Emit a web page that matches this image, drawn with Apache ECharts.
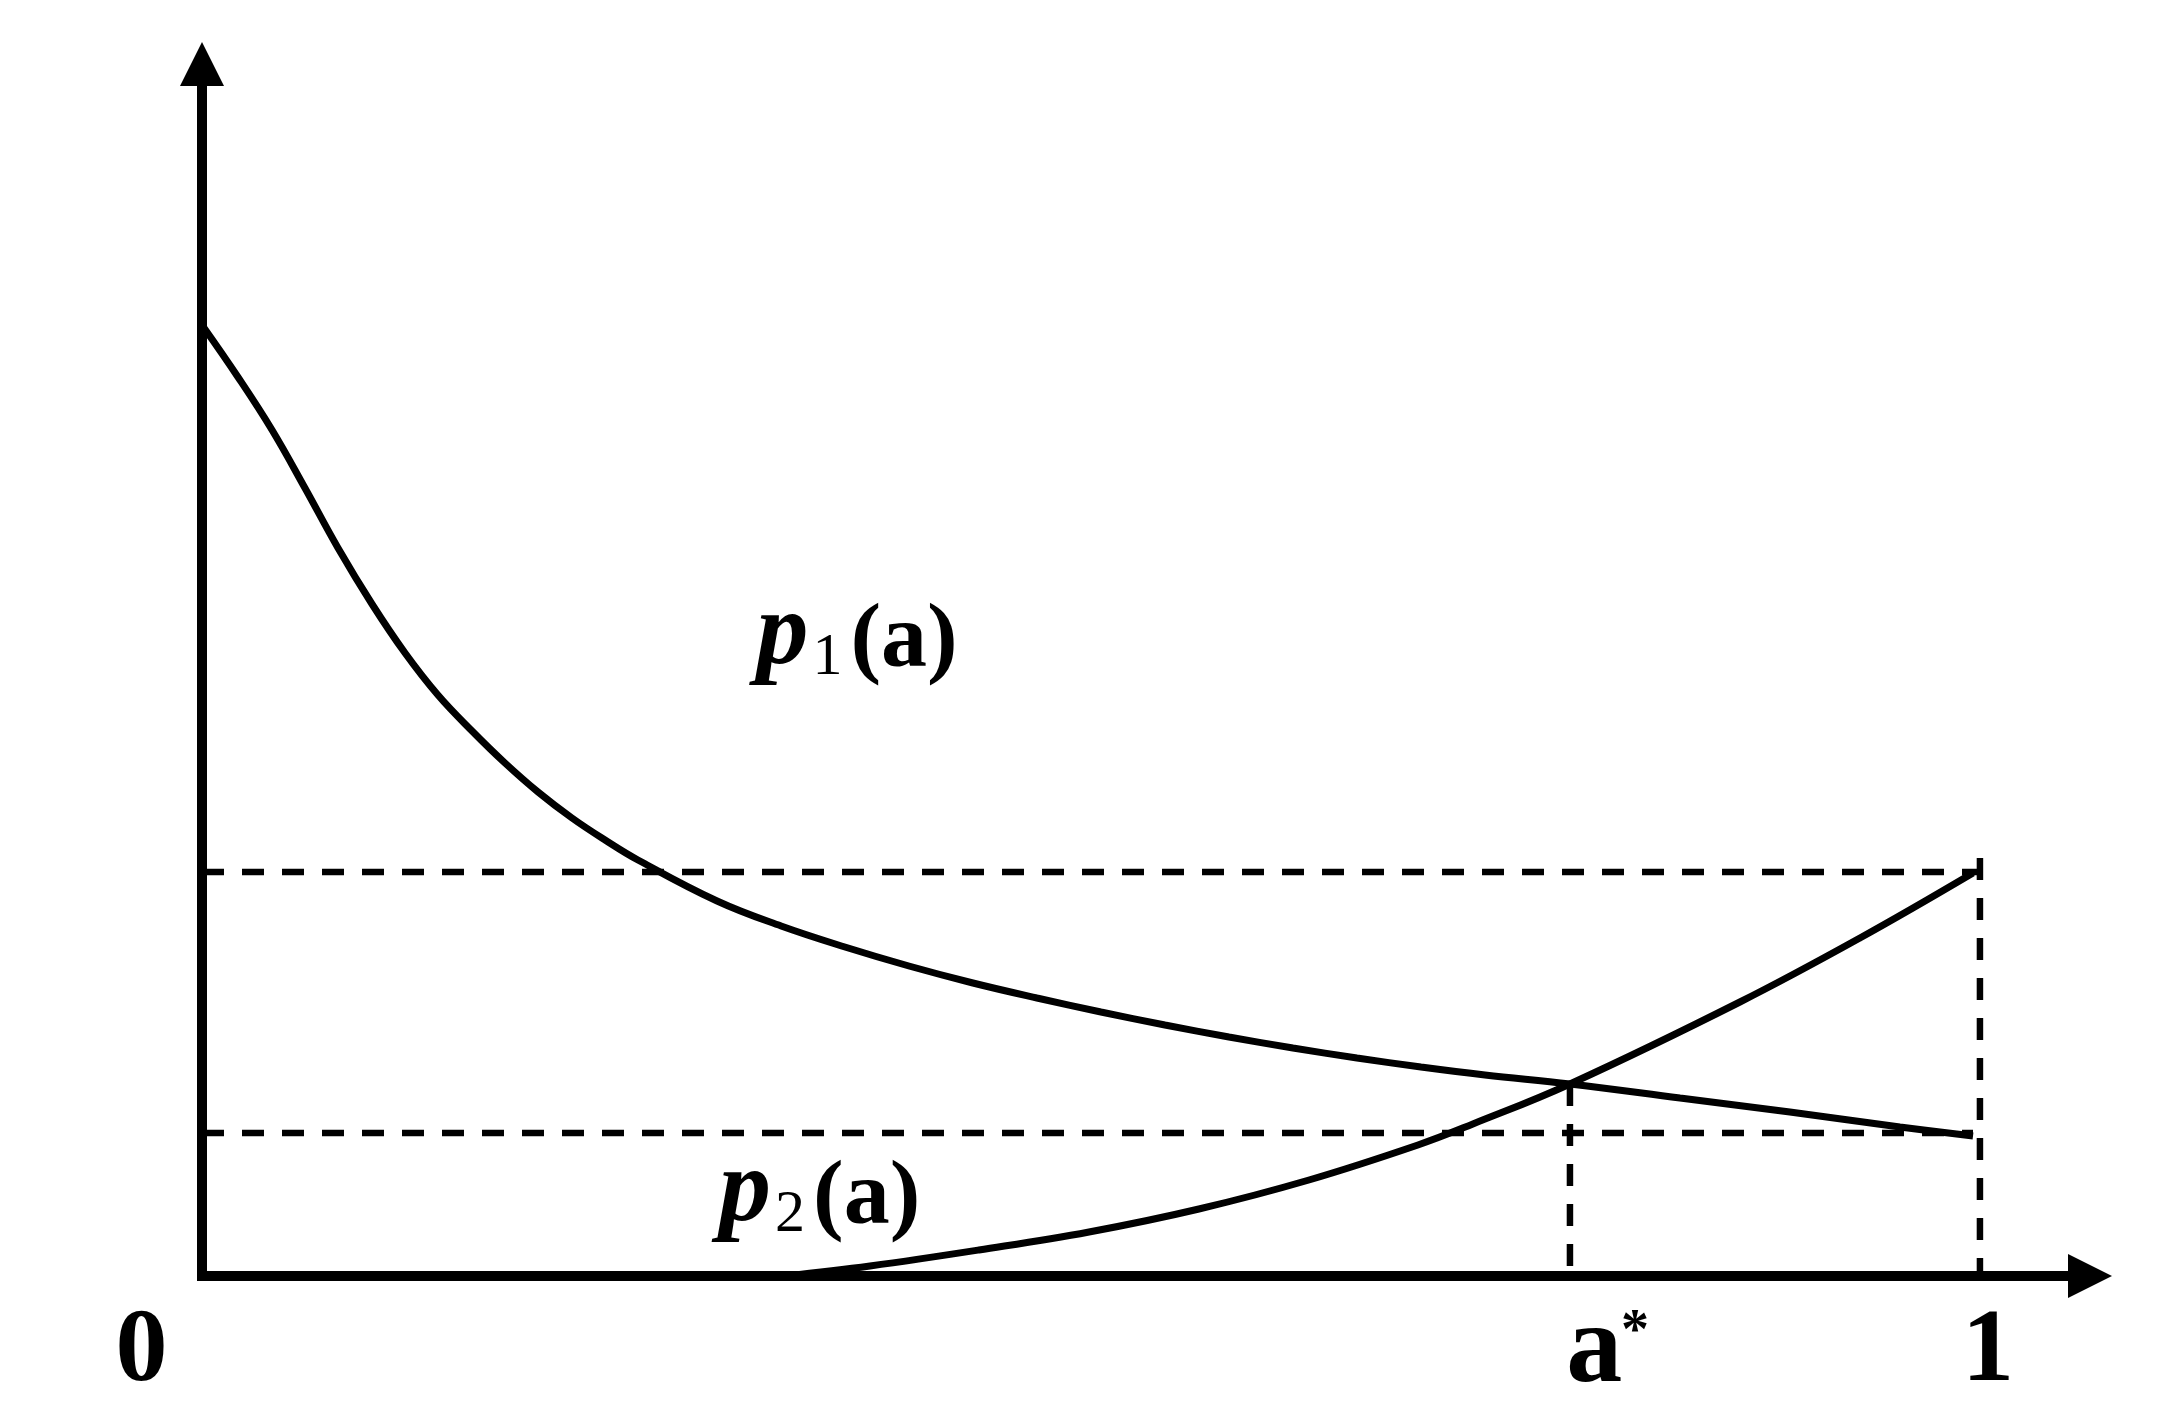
<!DOCTYPE html>
<html>
<head>
	<meta charset="utf-8">
	<title>p1(a) p2(a)</title>
	<style type="text/css">
		html,body{
			margin: 0;
			padding: 0;
			background: #fff;
		}
		#main{
			width: 2169px;
			height: 1420px;
		}
	</style>
</head>
<body>
<div id="main"></div>

<script src="https://cdn.jsdelivr.net/npm/echarts@6/dist/echarts.min.js"></script>
<script>
    // p1(a) 曲线
    var p1X = [0, 0.0202, 0.0394, 0.0579, 0.0765, 0.0956, 0.1142, 0.1327, 0.1519, 0.1704, 0.1890, 0.2081, 0.2267, 0.2452,
        0.2897, 0.3257, 0.3616, 0.3976, 0.4336, 0.4696, 0.5056, 0.5416, 0.5776, 0.6136, 0.6496, 0.6856, 0.7216, 0.7694,
        0.8313, 0.8931, 0.9550, 0.9961];
    var p1Y = [0.951, 0.899, 0.846, 0.788, 0.728, 0.672, 0.623, 0.581, 0.545, 0.513, 0.484, 0.458, 0.436, 0.416,
        0.375, 0.350, 0.329, 0.310, 0.293, 0.278, 0.264, 0.251, 0.239, 0.228, 0.218, 0.209, 0.201, 0.192,
        0.178, 0.164, 0.149, 0.140];
    // p2(a) 曲线
    var p2X = [0.3279, 0.3757, 0.4370, 0.4989, 0.5607, 0.6226, 0.6839, 0.7148, 0.7694, 0.8650, 0.9325, 0.9961];
    var p2Y = [0, 0.010, 0.026, 0.044, 0.067, 0.096, 0.131, 0.152, 0.192, 0.274, 0.338, 0.403];
    // 虚线
    var aStar = 0.7694;
    var aStarY = 0.192;
    var levelHigh = 0.404;
    var levelLow = 0.143;
    var oneTop = 0.418;
    var lineEnd = 0.9961;
    // 文字
    var labelTexts = ['0', '1', 'a', '*', 'p1', 'p2'];
    var labelX = [-0.034, 1.0045, 0.783, 0.806, 0.369, 0.348];
    var labelY = [-0.077, -0.077, -0.076, -0.058, 0.640, 0.083];

    function pairs(xs, ys) {
        var out = [];
        for (var i = 0; i < xs.length; i++) {
            out.push([xs[i], ys[i]]);
        }
        return out;
    }

    var serif = '"Liberation Serif", "DejaVu Serif", serif';
    var dash = [22, 18];

    function dashed(data) {
        return {
            type: 'line',
            data: data,
            symbol: 'none',
            silent: true,
            lineStyle: { color: '#000', width: 6.5, type: dash }
        };
    }

    var labelData = [];
    for (var i = 0; i < labelTexts.length; i++) {
        labelData.push({ value: [labelX[i], labelY[i]], name: labelTexts[i] });
    }

    var myChart = echarts.init(document.getElementById('main'));
    var option = {
        backgroundColor: '#fff',
        animation: false,
        grid: {
            left: 202,
            right: 79,
            top: 64,
            bottom: 144
        },
        xAxis: {
            type: 'value',
            min: 0,
            max: 1.0619,
            splitLine: { show: false },
            axisTick: { show: false },
            axisLabel: { show: false },
            axisLine: {
                onZero: false,
                symbol: ['none', 'triangle'],
                symbolSize: [44, 44],
                lineStyle: { color: '#000', width: 10, cap: 'square' }
            }
        },
        yAxis: {
            type: 'value',
            min: 0,
            max: 1.212,
            splitLine: { show: false },
            axisTick: { show: false },
            axisLabel: { show: false },
            axisLine: {
                show: true,
                onZero: false,
                symbol: ['none', 'triangle'],
                symbolSize: [44, 44],
                lineStyle: { color: '#000', width: 10, cap: 'square' }
            }
        },
        series: [
            dashed([[0, levelHigh], [1, levelHigh]]),
            dashed([[0, levelLow], [lineEnd, levelLow]]),
            dashed([[aStar, aStarY], [aStar, 0]]),
            dashed([[1, oneTop], [1, 0]]),
            {
                name: 'p1',
                type: 'line',
                data: pairs(p1X, p1Y),
                symbol: 'none',
                smooth: 0.4,
                lineStyle: { color: '#000', width: 7 }
            },
            {
                name: 'p2',
                type: 'line',
                data: pairs(p2X, p2Y),
                symbol: 'none',
                smooth: 0.4,
                lineStyle: { color: '#000', width: 7 }
            },
            {
                type: 'scatter',
                data: labelData,
                symbolSize: 0,
                clip: false,
                silent: true,
                label: {
                    show: true,
                    position: 'inside',
                    color: '#000',
                    opacity: 1,
                    textBorderWidth: 0,
                    fontFamily: serif,
                    formatter: function (p) {
                        var t = p.name;
                        if (t === '0' || t === '1') return '{d|' + t + '}';
                        if (t === 'a') return '{big|a}';
                        if (t === '*') return '{star|*}';
                        return '{p|p}{s|' + t.charAt(1) + '}{b|(a)}';
                    },
                    rich: {
                        d: { fontFamily: serif, fontWeight: 'bold', fontSize: 104, color: '#000' },
                        big: { fontFamily: serif, fontWeight: 'bold', fontSize: 112, color: '#000' },
                        star: { fontFamily: serif, fontWeight: 'bold', fontSize: 56, color: '#000' },
                        p: { fontFamily: serif, fontStyle: 'italic', fontWeight: 'bold', fontSize: 104, color: '#000', verticalAlign: 'bottom', lineHeight: 104 },
                        s: { fontFamily: serif, fontSize: 60, color: '#000', verticalAlign: 'bottom', lineHeight: 104, padding: [18, 6, 0, 4] },
                        b: { fontFamily: serif, fontWeight: 'bold', fontSize: 92, color: '#000', verticalAlign: 'bottom', lineHeight: 104, padding: [0, 2, 0, 2] }
                    }
                }
            }
        ]
    };
    myChart.setOption(option);
</script>
</body>
</html>
